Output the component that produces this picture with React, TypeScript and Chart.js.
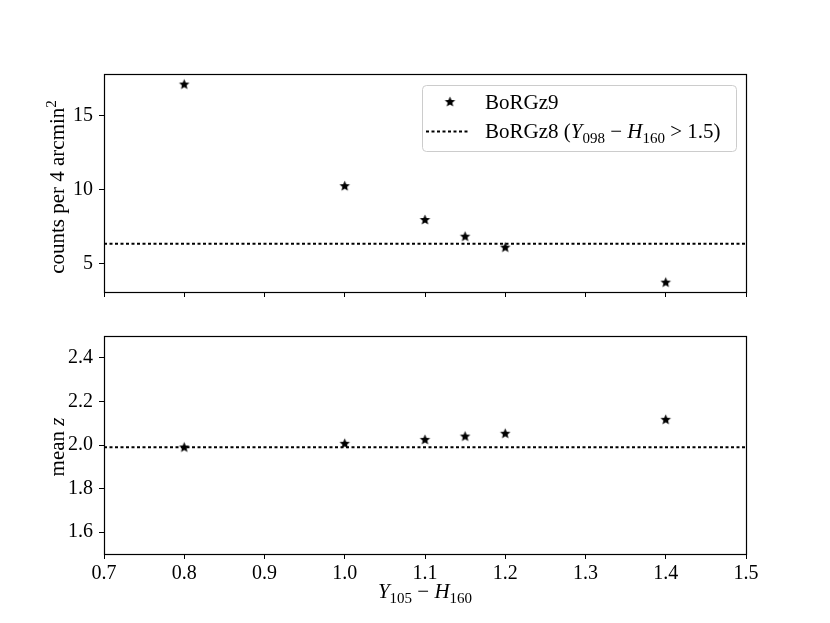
import React, { useEffect, useRef } from "react";
import { Chart, registerables } from "chart.js";

Chart.register(...registerables);

// ---- data ----
const xValues = [0.8, 1.0, 1.1, 1.15, 1.2, 1.4];
const countsBoRGz9 = [17.15, 10.27, 7.98, 6.85, 6.11, 3.74];
const meanZBoRGz9 = [1.991, 2.008, 2.026, 2.041, 2.054, 2.118];
const countsBoRGz8 = 6.34;
const meanZBoRGz8 = 1.99;
const xTicks = [0.7, 0.8, 0.9, 1.0, 1.1, 1.2, 1.3, 1.4, 1.5];
const countTicks = [5, 10, 15];
const meanZTicks = [1.6, 1.8, 2.0, 2.2, 2.4];
const xRange = [0.7, 1.5];
const countRange = [3.07, 17.83];
const meanZRange = [1.5, 2.5];

const FONT = '"Liberation Serif", "DejaVu Serif", serif';
const FS = 21;
const TICK_FS = 20;

type Part = { t: string; it?: boolean; sub?: boolean; sup?: boolean };

function fontFor(p: Part, size: number) {
  const s = p.sub || p.sup ? Math.round(size * 0.7) : size;
  return `${p.it ? "italic " : ""}${s}px ${FONT}`;
}

function drawRich(ctx: CanvasRenderingContext2D, parts: Part[], x: number, y: number, size: number, align: "left" | "center") {
  ctx.save();
  let total = 0;
  for (const p of parts) {
    ctx.font = fontFor(p, size);
    total += ctx.measureText(p.t).width;
  }
  let cx = align === "center" ? x - total / 2 : x;
  ctx.textAlign = "left";
  ctx.textBaseline = "alphabetic";
  ctx.fillStyle = "#000";
  for (const p of parts) {
    ctx.font = fontFor(p, size);
    const dy = p.sub ? size * 0.22 : p.sup ? -size * 0.4 : 0;
    ctx.fillText(p.t, cx, y + dy);
    cx += ctx.measureText(p.t).width;
  }
  ctx.restore();
}

function makeStar(r: number) {
  const size = Math.ceil(r * 2 + 2);
  const c = document.createElement("canvas");
  c.width = size;
  c.height = size;
  const g = c.getContext("2d")!;
  const cx = size / 2;
  const cy = size / 2 + 0.5;
  g.beginPath();
  for (let i = 0; i < 10; i++) {
    const rad = i % 2 === 0 ? r : r * 0.45;
    const a = -Math.PI / 2 + (i * Math.PI) / 5;
    const px = cx + rad * Math.cos(a);
    const py = cy + rad * Math.sin(a);
    if (i === 0) g.moveTo(px, py);
    else g.lineTo(px, py);
  }
  g.closePath();
  g.fillStyle = "#000";
  g.fill();
  return c;
}

function buildConfig(kind: "top" | "bottom", star: HTMLCanvasElement): any {
  const isTop = kind === "top";
  const yVals = isTop ? countsBoRGz9 : meanZBoRGz9;
  const hVal = isTop ? countsBoRGz8 : meanZBoRGz8;
  const yRange = isTop ? countRange : meanZRange;
  const yTicks = isTop ? countTicks : meanZTicks;

  const overlay = {
    id: "overlay-" + kind,
    afterDraw(chart: any) {
      const ctx: CanvasRenderingContext2D = chart.ctx;
      const { left, top, right, bottom } = chart.chartArea;
      ctx.save();
      ctx.strokeStyle = "#000";
      ctx.lineWidth = 1.2;
      ctx.strokeRect(Math.round(left) + 0.5, Math.round(top) + 0.5, Math.round(right - left), Math.round(bottom - top));
      ctx.restore();
      const cy = (top + bottom) / 2;
      // y axis title
      ctx.save();
      ctx.translate(64, cy + (isTop ? 4 : 2));
      ctx.rotate(-Math.PI / 2);
      if (isTop) {
        drawRich(ctx, [{ t: "counts per 4 arcmin" }, { t: "2", sup: true }], 0, 0, FS, "center");
      } else {
        drawRich(ctx, [{ t: "mean " }, { t: "z", it: true }], 0, 0, FS, "center");
      }
      ctx.restore();
      if (!isTop) {
        drawRich(
          ctx,
          [{ t: "Y", it: true }, { t: "105", sub: true }, { t: " \u2212 " }, { t: "H", it: true }, { t: "160", sub: true }],
          (left + right) / 2,
          287,
          FS,
          "center"
        );
      } else {
        // legend
        ctx.save();
        ctx.beginPath();
        (ctx as any).roundRect(422.5, 85.5, 314, 66, 4);
        ctx.fillStyle = "rgba(255,255,255,0.8)";
        ctx.fill();
        ctx.strokeStyle = "#cccccc";
        ctx.lineWidth = 1;
        ctx.stroke();
        ctx.drawImage(star, 450 - star.width / 2, 101.5 - star.height / 2);
        ctx.beginPath();
        ctx.setLineDash([3, 2.5]);
        ctx.lineWidth = 2;
        ctx.strokeStyle = "#000";
        ctx.moveTo(426, 131.5);
        ctx.lineTo(469, 131.5);
        ctx.stroke();
        ctx.restore();
        drawRich(ctx, [{ t: "BoRGz9" }], 485, 109, FS, "left");
        drawRich(
          ctx,
          [
            { t: "BoRGz8 (" },
            { t: "Y", it: true },
            { t: "098", sub: true },
            { t: " \u2212 " },
            { t: "H", it: true },
            { t: "160", sub: true },
            { t: " > 1.5)" },
          ],
          485,
          138,
          FS,
          "left"
        );
      }
    },
  };

  return {
    type: "scatter",
    data: {
      datasets: [
        {
          label: "BoRGz9",
          data: xValues.map((x, i) => ({ x, y: yVals[i] })),
          pointStyle: star,
          pointRadius: 6,
          showLine: false,
        },
        {
          label: "BoRGz8",
          data: [
            { x: xRange[0], y: hVal },
            { x: xRange[1], y: hVal },
          ],
          showLine: true,
          pointRadius: 0,
          borderColor: "#000",
          borderWidth: 2,
          borderDash: [3, 2.5],
        },
      ],
    },
    options: {
      animation: false,
      responsive: false,
      maintainAspectRatio: false,
      layout: { padding: { left: 0, right: 84, top: isTop ? 74 : 25, bottom: 0 } },
      plugins: { legend: { display: false }, tooltip: { enabled: false } },
      scales: {
        x: {
          type: "linear",
          min: xRange[0],
          max: xRange[1],
          afterBuildTicks: (s: any) => {
            s.ticks = xTicks.map((v) => ({ value: v }));
          },
          afterFit: (s: any) => {
            s.height = isTop ? 19 : 69;
          },
          ticks: {
            display: !isTop,
            color: "#000",
            font: { family: FONT, size: TICK_FS },
            padding: 3,
            maxRotation: 0,
            autoSkip: false,
            callback: (v: any) => Number(v).toFixed(1),
          },
          grid: { drawOnChartArea: false, drawTicks: true, tickLength: 5, color: "#000", lineWidth: 1 },
          border: { display: false },
        },
        y: {
          type: "linear",
          min: yRange[0],
          max: yRange[1],
          afterBuildTicks: (s: any) => {
            s.ticks = yTicks.map((v) => ({ value: v }));
          },
          afterFit: (s: any) => {
            s.width = 104;
          },
          ticks: {
            color: "#000",
            font: { family: FONT, size: TICK_FS },
            padding: 6,
            autoSkip: false,
            callback: (v: any) => (isTop ? String(Math.round(Number(v))) : Number(v).toFixed(1)),
          },
          grid: { drawOnChartArea: false, drawTicks: true, tickLength: 5, color: "#000", lineWidth: 1 },
          border: { display: false },
        },
      },
    },
    plugins: [overlay],
  };
}

function Panel({ kind, top, height }: { kind: "top" | "bottom"; top: number; height: number }) {
  const ref = useRef<HTMLCanvasElement | null>(null);
  useEffect(() => {
    const star = makeStar(5.5);
    const chart = new Chart(ref.current!, buildConfig(kind, star));
    return () => chart.destroy();
  }, [kind]);
  return (
    <canvas
      ref={ref}
      width={830}
      height={height}
      style={{ position: "absolute", left: 0, top, width: 830, height, display: "block" }}
    />
  );
}

export default function App() {
  return (
    <div style={{ position: "absolute", left: 0, top: 0, width: 830, height: 623, background: "#fff" }}>
      <Panel kind="top" top={0} height={311} />
      <Panel kind="bottom" top={311} height={312} />
    </div>
  );
}
